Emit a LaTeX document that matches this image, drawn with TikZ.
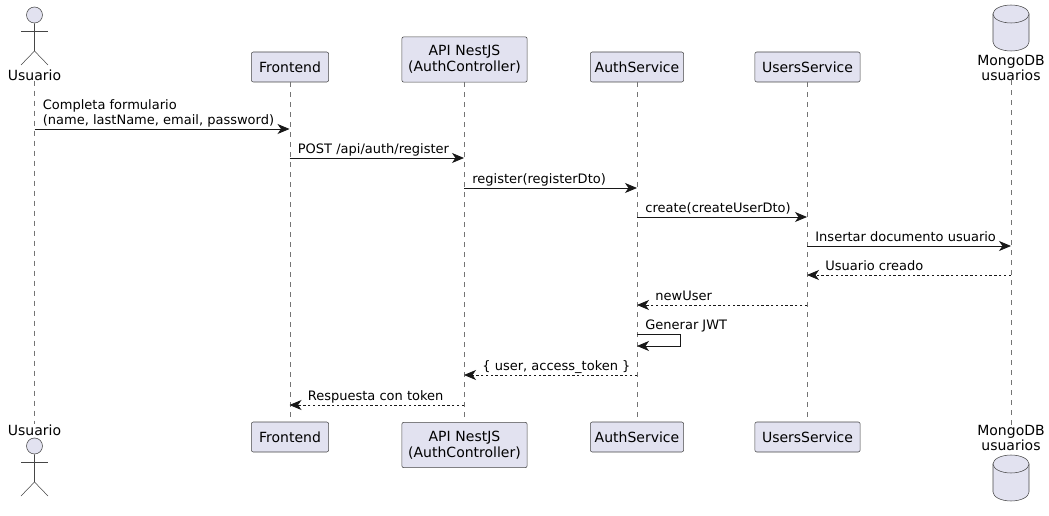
\documentclass[tikz,border=0pt]{standalone}
\usepackage{fontspec}
\setmainfont{DejaVu Sans}
\usepackage{xcolor}
\usetikzlibrary{arrows.meta}
\definecolor{partfill}{HTML}{E2E2F0}
\definecolor{partline}{HTML}{181818}

\begin{document}
\begin{tikzpicture}[
  x=0.75pt, y=-0.75pt,
  font=\fontsize{9.75}{11.25}\selectfont,
  part/.style={draw=partline!80, fill=partfill, line width=0.4pt, rounded corners=1.5pt, align=center, inner sep=0pt, minimum height=22.5pt, text width=#1, font=\fontsize{10.5}{12}\selectfont},
  part/.default=58pt,
  tag/.style={align=center, inner sep=0pt, font=\fontsize{10.5}{11.25}\selectfont},
  head/.style={circle, draw=partline!80, fill=partfill, line width=0.4pt, inner sep=0pt, minimum size=12pt},
  limb/.style={draw=partline!80, line width=0.4pt},
  life/.style={draw=partline!60, line width=0.4pt, dash pattern=on 3.75pt off 3.75pt},
  call/.style={draw=partline, line width=0.6pt, -{Stealth[length=9pt, width=7.5pt, inset=2.6pt]}},
  back/.style={call, dash pattern=on 1.8pt off 1.8pt},
  lbl/.style={anchor=south west, inner xsep=0pt, inner ysep=0pt, text depth=3pt, align=left},
  drum/.pic={
    \draw[limb, fill=partfill] (-18,0) -- (-18,28) arc[start angle=180, end angle=0, x radius=18, y radius=9] -- (18,0) -- cycle;
    \draw[limb, fill=partfill] (0,0) ellipse[x radius=18, y radius=9];
  },
]
\useasboundingbox (0,0) rectangle (1049,516);

% participants, top row
\node[tag] (usrT) at (34.5,75) {Usuario};
\node[part] (froT) at (290,67) {Frontend};
\node[part=94pt, minimum height=34pt] (apiT) at (464.5,59.5) {API NestJS\\(AuthController)};
\node[part=70pt] (autT) at (637,67) {AuthService};
\node[part=79pt] (serT) at (807.5,67) {UsersService};
\node[tag] (mdbT) at (1011,67.5) {MongoDB\\usuarios};

% participants, bottom row
\node[tag] (usrB) at (34.5,430) {Usuario};
\node[part] (froB) at (290,437) {Frontend};
\node[part=94pt, minimum height=34pt] (apiB) at (464.5,445) {API NestJS\\(AuthController)};
\node[part=70pt] (autB) at (637,437) {AuthService};
\node[part=79pt] (serB) at (807.5,437) {UsersService};
\node[tag] (mdbB) at (1011,438) {MongoDB\\usuarios};

% actors
\node[head] (headT) at (34.5,15) {};
\node[head] (headB) at (34.5,446) {};
\foreach \n/\t in {headT/0,headB/431} {
  \draw[limb] (\n.south) -- (34.5,\t+51) -- (21,\t+65);
  \draw[limb] (34.5,\t+51) -- (48,\t+65);
  \draw[limb] (21,\t+31) -- (48,\t+31);
}

% database
\pic at (1011,14) {drum};
\pic at (1011,464) {drum};

% lifelines
\foreach \n in {usr,fro,api,aut,ser,mdb} \draw[life] (\n T) -- (\n B);

% message rows
\foreach \n/\x in {usr/34.5,fro/289.5,api/464,aut/637,ser/807,mdb/1011} {
  \foreach \r/\y in {1/129,2/158,3/188,4/217,5/246,6/275,7/305,8/334,9/346,10/375,11/405} {
    \coordinate (\n-\r) at (\x,\y);
  }
}
\coordinate (slfA) at (680,334);
\coordinate (slfB) at (680,346);

\draw[call] (usr-1) -- node[lbl, pos=0, xshift=6pt] {Completa formulario\\(name, lastName, email, password)} (fro-1);
\draw[call] (fro-2) -- node[lbl, pos=0, xshift=6pt] {POST /api/auth/register} (api-2);
\draw[call] (api-3) -- node[lbl, pos=0, xshift=6pt] {register(registerDto)} (aut-3);
\draw[call] (aut-4) -- node[lbl, pos=0, xshift=6pt] {create(createUserDto)} (ser-4);
\draw[call] (ser-5) -- node[lbl, pos=0, xshift=6pt] {Insertar documento usuario} (mdb-5);
\draw[back] (mdb-6) -- node[lbl, pos=1, xshift=13.5pt] {Usuario creado} (ser-6);
\draw[back] (ser-7) -- node[lbl, pos=1, xshift=13.5pt] {newUser} (aut-7);
\draw[call] (aut-8) -- node[lbl, pos=0, xshift=6pt] {Generar JWT} (slfA) -- (slfB) -- (aut-9);
\draw[back] (aut-10) -- node[lbl, pos=1, xshift=13.5pt] {\{ user, access\_token \}} (api-10);
\draw[back] (api-11) -- node[lbl, pos=1, xshift=13.5pt] {Respuesta con token} (fro-11);
\end{tikzpicture}
\end{document}
